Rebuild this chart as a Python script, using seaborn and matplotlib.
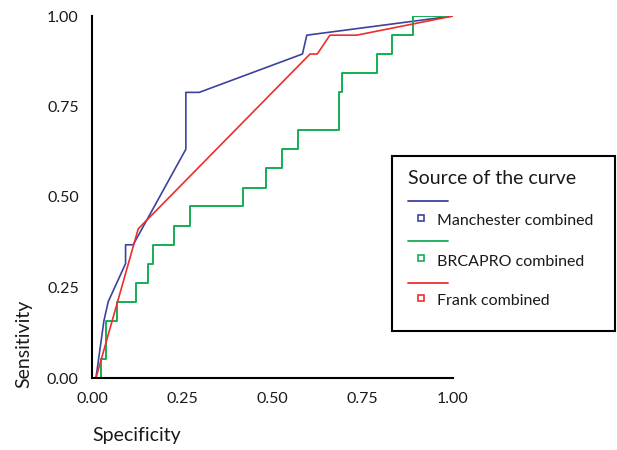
import matplotlib
matplotlib.use("Agg")
import matplotlib.pyplot as plt
import seaborn as sns
import pandas as pd
from matplotlib.patches import Rectangle
from matplotlib.lines import Line2D

# ---- data ----
curve_names = ["Manchester combined", "BRCAPRO combined", "Frank combined"]
curve_colors = ["#3c439e", "#16ad55", "#ef2d2d"]

manchester_spec = [0.011, 0.033, 0.045, 0.093, 0.093, 0.114, 0.260, 0.260, 0.297, 0.583, 0.595, 1.0]
manchester_sens = [0.0, 0.158, 0.211, 0.316, 0.368, 0.368, 0.632, 0.789, 0.789, 0.895, 0.947, 1.0]

brcapro_spec = [0.024, 0.024, 0.038, 0.070, 0.122, 0.156, 0.168, 0.227, 0.271, 0.417,
                0.481, 0.525, 0.570, 0.685, 0.692, 0.789, 0.830, 0.890, 1.0]
brcapro_sens = [0.0, 0.053, 0.158, 0.211, 0.263, 0.316, 0.368, 0.421, 0.474, 0.526,
                0.579, 0.632, 0.684, 0.789, 0.842, 0.895, 0.947, 1.0, 1.0]

frank_spec = [0.011, 0.128, 0.604, 0.624, 0.659, 0.733, 1.0]
frank_sens = [0.0, 0.412, 0.895, 0.895, 0.947, 0.947, 1.0]

tick_values = [0.0, 0.25, 0.5, 0.75, 1.0]
tick_labels = ["0.00", "0.25", "0.50", "0.75", "1.00"]

sns.set_theme(style="white")
plt.rcParams["font.family"] = ["Lato", "DejaVu Sans"]

W, H = 617, 450
fig = plt.figure(figsize=(W / 100, H / 100), dpi=100)
ax = fig.add_axes([92 / W, 1 - 378 / H, (453 - 92) / W, (378 - 16) / H])

df_m = pd.DataFrame({"spec": manchester_spec, "sens": manchester_sens})
df_b = pd.DataFrame({"spec": brcapro_spec, "sens": brcapro_sens})
df_f = pd.DataFrame({"spec": frank_spec, "sens": frank_sens})

sns.lineplot(data=df_m, x="spec", y="sens", ax=ax, estimator=None, sort=False,
             color=curve_colors[0], linewidth=1.2)
sns.lineplot(data=df_b, x="spec", y="sens", ax=ax, estimator=None, sort=False,
             color=curve_colors[1], linewidth=1.4, drawstyle="steps-post")
sns.lineplot(data=df_f, x="spec", y="sens", ax=ax, estimator=None, sort=False,
             color=curve_colors[2], linewidth=1.2)

ax.set_xlim(0, 1)
ax.set_ylim(0, 1)
ax.set_xticks(tick_values)
ax.set_xticklabels(tick_labels)
ax.set_yticks(tick_values)
ax.set_yticklabels(tick_labels)
for s in ["top", "right"]:
    ax.spines[s].set_visible(False)
for s in ["left", "bottom"]:
    ax.spines[s].set_color("black")
    ax.spines[s].set_linewidth(1.5)
ax.tick_params(axis="x", direction="in", length=6, width=1.2, colors="black",
               labelsize=11.5, pad=10)
ax.tick_params(axis="y", direction="out", length=8, width=1.2, colors="black",
               labelsize=11.5, pad=1.5)
ax.tick_params(axis="both", labelcolor="#1a1a1a")

ax.set_xlabel("Specificity", fontsize=14, loc="left", color="#1a1a1a")
ax.set_ylabel("Sensitivity", fontsize=14, loc="bottom", color="#1a1a1a")
ax.xaxis.set_label_coords(0.0, -0.135)
ax.yaxis.set_label_coords(-0.165, -0.028)
ax.xaxis.label.set_verticalalignment("top")

# ---- legend box (SPSS style) drawn in pixel overlay ----
ov = fig.add_axes([0, 0, 1, 1], zorder=5)
ov.set_xlim(0, W)
ov.set_ylim(H, 0)
ov.axis("off")
ov.patch.set_alpha(0)
ov.add_patch(Rectangle((392, 156), 223, 175, fill=True, facecolor="white",
                       edgecolor="black", linewidth=1.5))
ov.text(408, 179, "Source of the curve", fontsize=14, va="center", ha="left",
        color="#1a1a1a")
line_ys = [201, 241, 282.5]
marker_ys = [218, 257.5, 298]
text_ys = [221, 261.5, 301]
for name, col, ly, my, ty in zip(curve_names, curve_colors, line_ys, marker_ys, text_ys):
    ov.add_line(Line2D([408, 448], [ly, ly], color=col, linewidth=1.3))
    ov.add_line(Line2D([421], [my], marker="s", markersize=5, markerfacecolor="white",
                       markeredgecolor=col, markeredgewidth=1.2, linestyle="none"))
    ov.text(437, ty, name, fontsize=11.5, va="center", ha="left", color="#1a1a1a")

fig.savefig("out.png", dpi=100)
